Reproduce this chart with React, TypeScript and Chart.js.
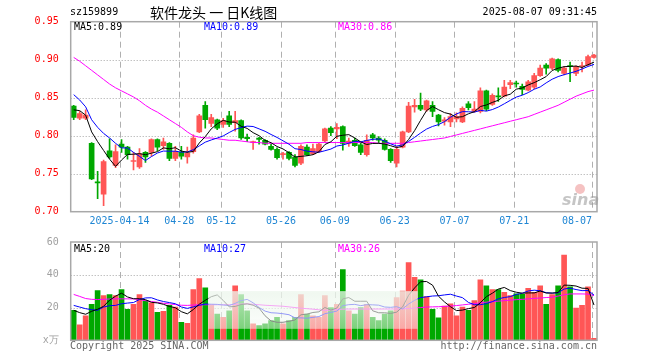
import { useEffect, useRef } from "react";
import { Chart, registerables } from "chart.js";

Chart.register(...registerables);

// ---------- DATA ----------
const dates = [
  "2025-04-01","2025-04-02","2025-04-03","2025-04-07","2025-04-08","2025-04-09","2025-04-10","2025-04-11",
  "2025-04-14","2025-04-15","2025-04-16","2025-04-17","2025-04-18","2025-04-21","2025-04-22","2025-04-23",
  "2025-04-24","2025-04-25","2025-04-28","2025-04-29","2025-04-30",
  "2025-05-06","2025-05-07","2025-05-08","2025-05-09","2025-05-12","2025-05-13","2025-05-14","2025-05-15",
  "2025-05-16","2025-05-19","2025-05-20","2025-05-21","2025-05-22","2025-05-23","2025-05-26","2025-05-27",
  "2025-05-28","2025-05-29","2025-05-30",
  "2025-06-03","2025-06-04","2025-06-05","2025-06-06","2025-06-09","2025-06-10","2025-06-11","2025-06-12",
  "2025-06-13","2025-06-16","2025-06-17","2025-06-18","2025-06-19","2025-06-20","2025-06-23","2025-06-24",
  "2025-06-25","2025-06-26","2025-06-27","2025-06-30",
  "2025-07-01","2025-07-02","2025-07-03","2025-07-04","2025-07-07","2025-07-08","2025-07-09","2025-07-10",
  "2025-07-11","2025-07-14","2025-07-15","2025-07-16","2025-07-17","2025-07-18","2025-07-21","2025-07-22",
  "2025-07-23","2025-07-24","2025-07-25","2025-07-28","2025-07-29","2025-07-30","2025-07-31",
  "2025-08-01","2025-08-04","2025-08-05","2025-08-06","2025-08-07",
];

const opens = [
  0.839,0.823,0.823,0.790,0.739,0.723,0.780,0.761,0.789,0.785,0.766,0.759,0.778,0.778,0.795,0.787,
  0.790,0.770,0.778,0.772,0.779,0.805,0.840,0.816,0.821,0.815,0.826,0.817,0.820,0.798,0.791,0.797,
  0.794,0.786,0.782,0.775,0.778,0.772,0.764,0.785,0.776,0.779,0.793,0.810,0.809,0.812,0.790,0.794,
  0.788,0.775,0.801,0.797,0.794,0.782,0.764,0.785,0.805,0.838,0.840,0.834,0.840,0.827,0.819,0.818,
  0.822,0.818,0.842,0.832,0.832,0.859,0.841,0.852,0.852,0.867,0.869,0.865,0.860,0.864,0.879,0.893,
  0.889,0.900,0.882,0.892,0.882,0.891,0.893,0.903,
];
const closes = [
  0.824,0.829,0.827,0.743,0.738,0.766,0.772,0.779,0.785,0.775,0.767,0.776,0.772,0.795,0.785,0.792,
  0.770,0.779,0.773,0.777,0.797,0.826,0.821,0.824,0.810,0.820,0.815,0.820,0.797,0.796,0.792,0.795,
  0.789,0.782,0.771,0.776,0.770,0.761,0.786,0.775,0.783,0.789,0.809,0.804,0.811,0.790,0.793,0.787,
  0.778,0.794,0.797,0.794,0.782,0.767,0.782,0.805,0.839,0.840,0.835,0.846,0.832,0.818,0.821,0.825,
  0.825,0.836,0.837,0.835,0.859,0.835,0.853,0.851,0.864,0.870,0.868,0.861,0.871,0.879,0.889,0.889,
  0.901,0.886,0.889,0.891,0.891,0.892,0.904,0.906,
];
const highs = [
  0.840,0.832,0.834,0.791,0.753,0.768,0.796,0.788,0.795,0.786,0.778,0.783,0.779,0.796,0.796,0.797,
  0.791,0.786,0.786,0.785,0.801,0.828,0.845,0.828,0.822,0.823,0.832,0.832,0.821,0.802,0.793,0.798,
  0.795,0.789,0.784,0.778,0.779,0.775,0.788,0.788,0.789,0.790,0.810,0.812,0.816,0.813,0.797,0.797,
  0.790,0.801,0.803,0.799,0.796,0.783,0.786,0.806,0.844,0.848,0.856,0.847,0.845,0.828,0.824,0.829,
  0.830,0.838,0.845,0.845,0.863,0.860,0.855,0.863,0.873,0.873,0.872,0.868,0.873,0.882,0.893,0.895,
  0.902,0.901,0.891,0.897,0.892,0.897,0.906,0.907,
];
const lows = [
  0.821,0.821,0.821,0.742,0.717,0.708,0.770,0.758,0.778,0.769,0.755,0.757,0.765,0.773,0.780,0.782,
  0.767,0.767,0.769,0.764,0.777,0.804,0.810,0.812,0.808,0.811,0.812,0.806,0.795,0.792,0.782,0.789,
  0.788,0.781,0.769,0.769,0.768,0.759,0.762,0.774,0.775,0.778,0.792,0.800,0.796,0.781,0.786,0.786,
  0.775,0.773,0.794,0.790,0.781,0.765,0.759,0.784,0.804,0.831,0.833,0.832,0.825,0.813,0.814,0.812,
  0.818,0.817,0.834,0.831,0.830,0.833,0.840,0.845,0.851,0.862,0.864,0.854,0.859,0.862,0.878,0.881,
  0.887,0.884,0.880,0.871,0.879,0.884,0.892,0.902,
];
const volumes = [
  18.3,9.4,14.9,21.9,30.3,27.3,27.9,27.3,30.9,18.9,21.9,27.9,24.3,22.9,17.1,17.7,
  21.3,20.3,11.0,10.4,30.9,37.6,32.1,22.0,16.0,14.0,18.0,33.3,27.9,18.0,10.0,9.0,
  10.0,12.0,14.0,10.0,12.0,14.0,27.9,16.0,15.0,14.0,27.3,20.0,22.0,43.2,18.0,16.0,
  20.0,22.0,14.0,12.0,16.0,18.0,26.0,30.0,47.4,38.4,36.9,26.7,18.9,13.7,20.9,22.3,
  14.9,20.3,18.3,24.3,36.9,33.3,30.9,30.9,29.3,27.3,28.3,28.0,31.7,29.3,33.3,21.9,
  27.9,33.3,52.0,32.7,19.7,21.3,32.7,1.2,
];

const ma5Head = [0.834, 0.833, 0.827, 0.805];
const ma10Head = [0.854, 0.847, 0.838, 0.821, 0.811, 0.803, 0.797, 0.790, 0.784];
const ma30 = [
  0.903,0.898,0.892,0.886,0.880,0.874,0.868,0.863,0.859,0.855,0.851,0.846,0.840,0.835,0.831,0.826,
  0.821,0.816,0.811,0.805,0.800,0.798,0.797,0.797,0.796,0.795,0.794,0.794,0.793,0.792,0.791,0.791,
  0.790,0.790,0.790,0.790,0.790,0.790,0.790,0.791,0.791,0.791,0.791,0.791,0.791,0.791,0.791,0.791,
  0.791,0.791,0.791,0.790,0.790,0.790,0.790,0.790,0.791,0.792,0.793,0.794,0.795,0.796,0.797,0.799,
  0.801,0.803,0.805,0.807,0.809,0.811,0.813,0.815,0.817,0.819,0.821,0.823,0.825,0.828,0.831,0.834,
  0.837,0.840,0.844,0.848,0.852,0.855,0.858,0.860,
];
const volMa5Head = [18.3, 16.9, 15.9, 17.7];
const volMa10Head = [21.3, 20.3, 19.3, 18.7, 18.3, 20.3, 21.1, 21.3, 22.3];
const volMa30 = [
  28.0,26.8,25.5,25.0,24.9,25.0,25.2,25.3,25.3,25.3,25.3,24.8,24.2,23.7,23.2,22.6,
  22.2,21.8,21.4,21.3,21.5,21.7,21.7,21.7,21.7,21.7,21.7,21.9,22.1,22.3,22.0,21.7,
  21.4,21.2,21.0,20.8,20.4,20.0,19.6,19.3,19.0,18.6,18.3,18.4,18.8,19.0,19.1,19.1,
  19.1,19.1,19.1,19.1,19.1,19.1,19.1,19.2,19.4,19.7,20.0,20.3,20.4,20.5,20.7,20.9,
  21.2,21.6,22.0,22.4,22.9,23.3,23.6,23.9,24.2,24.5,24.8,25.0,25.3,25.6,25.8,26.1,
  26.3,27.0,27.8,28.3,28.3,28.3,28.2,27.3,
];

const tickDates = ["2025-04-14","2025-04-28","2025-05-12","2025-05-26","2025-06-09","2025-06-23","2025-07-07","2025-07-21","2025-08-07"];
const tickLabels = ["2025-04-14","04-28","05-12","05-26","06-09","06-23","07-07","07-21","08-07"];
const priceTicks = [0.70, 0.75, 0.80, 0.85, 0.90, 0.95];
const priceGrid = [0.75, 0.80, 0.85, 0.90];
const volTicks = [0, 20, 40, 60];
const volGrid = [20, 40];

const priceLegend = ["MA5:0.89", "MA10:0.89", "MA30:0.86"];
const volLegend = ["MA5:20", "MA10:27", "MA30:26"];

// ---------- STYLE ----------
const RED = "#ff5656";
const GREEN = "#00a800";
const MONO = '"DejaVu Sans Mono", "Liberation Mono", monospace';
const LEGEND_X = [74, 204, 338];
const LEGEND_COLORS = ["#000000", "#0000ff", "#ff00ff"];

function movingAverage(values: number[], n: number, head: number[]) {
  return values.map((_, i) =>
    i < n - 1 ? head[i] : values.slice(i - n + 1, i + 1).reduce((a, b) => a + b, 0) / n
  );
}

const candleColors = opens.map((o, i) => (closes[i] >= o ? RED : GREEN));
const tickIdx = tickDates.map((d) => dates.indexOf(d));

function drawGrid(chart: any, hValues: number[]) {
  const { ctx, chartArea } = chart;
  const xs = chart.scales.x;
  const ys = chart.scales.y;
  ctx.save();
  ctx.lineWidth = 1;
  ctx.strokeStyle = "#a6a6a6";
  ctx.setLineDash([1, 2]);
  hValues.forEach((v) => {
    const y = Math.round(ys.getPixelForValue(v)) + 0.5;
    ctx.beginPath();
    ctx.moveTo(chartArea.left, y);
    ctx.lineTo(chartArea.right, y);
    ctx.stroke();
  });
  ctx.setLineDash([6, 4]);
  ctx.strokeStyle = "#b0b0b0";
  tickIdx.forEach((i) => {
    const x = Math.round(xs.getPixelForValue(i) - 2) + 0.5;
    ctx.beginPath();
    ctx.moveTo(x, chartArea.top);
    ctx.lineTo(x, chartArea.bottom);
    ctx.stroke();
  });
  ctx.restore();
}

function drawFrame(chart: any) {
  const { ctx, chartArea } = chart;
  ctx.save();
  ctx.strokeStyle = "#a8a8a8";
  ctx.lineWidth = 1.5;
  ctx.strokeRect(chartArea.left, chartArea.top, chartArea.right - chartArea.left, chartArea.bottom - chartArea.top);
  ctx.restore();
}

function drawLegend(chart: any, texts: string[], dy: number) {
  const { ctx, chartArea } = chart;
  ctx.save();
  ctx.font = `10px ${MONO}`;
  ctx.textBaseline = "middle";
  ctx.textAlign = "left";
  texts.forEach((t, k) => {
    ctx.fillStyle = LEGEND_COLORS[k];
    ctx.fillText(t, LEGEND_X[k], chartArea.top + dy);
  });
  ctx.restore();
}

export default function App() {
  const topRef = useRef<HTMLCanvasElement>(null);
  const volRef = useRef<HTMLCanvasElement>(null);

  useEffect(() => {
    const ma5 = movingAverage(closes, 5, ma5Head);
    const ma10 = movingAverage(closes, 10, ma10Head);
    const vma5 = movingAverage(volumes, 5, volMa5Head);
    const vma10 = movingAverage(volumes, 10, volMa10Head);

    const topPlugin = {
      id: "kdecor",
      beforeDatasetsDraw(chart: any) {
        drawGrid(chart, priceGrid);
      },
      afterDatasetsDraw(chart: any) {
        drawFrame(chart);
      },
      afterDraw(chart: any) {
        const { ctx, chartArea } = chart;
        const xs = chart.scales.x;
        ctx.save();
        ctx.font = `10px ${MONO}`;
        ctx.fillStyle = "#1f86d4";
        ctx.textBaseline = "middle";
        tickIdx.forEach((i, k) => {
          const x = xs.getPixelForValue(i) - 2;
          ctx.textAlign = k === tickIdx.length - 1 ? "right" : "center";
          ctx.fillText(tickLabels[k], x, chartArea.bottom + 10);
        });
        // sina watermark
        ctx.fillStyle = "rgba(232,120,120,0.45)";
        ctx.beginPath();
        ctx.arc(580, 189, 5, 0, Math.PI * 2);
        ctx.fill();
        ctx.font = 'italic bold 16px "DejaVu Sans", sans-serif';
        ctx.fillStyle = "rgba(150,150,150,0.55)";
        ctx.textAlign = "left";
        ctx.textBaseline = "alphabetic";
        ctx.fillText("sina", 562, 205);
        ctx.restore();
        drawLegend(chart, priceLegend, 6);
      },
    };

    const c1 = new Chart(topRef.current as HTMLCanvasElement, {
      type: "bar",
      data: {
        labels: dates,
        datasets: [
          { type: "line", data: ma5, borderColor: "#000000", borderWidth: 1, pointRadius: 0, order: 0 } as any,
          { type: "line", data: ma10, borderColor: "#0000ff", borderWidth: 1, pointRadius: 0, order: 0 } as any,
          { type: "line", data: ma30, borderColor: "#ff00ff", borderWidth: 1, pointRadius: 0, order: 0 } as any,
          {
            type: "bar",
            data: opens.map((o, i) => [o, closes[i]]),
            backgroundColor: candleColors,
            barThickness: 5,
            minBarLength: 1,
            grouped: false,
            borderWidth: 0,
            order: 1,
          } as any,
          {
            type: "bar",
            data: lows.map((l, i) => [l, highs[i]]),
            backgroundColor: candleColors,
            barThickness: 1,
            grouped: false,
            borderWidth: 0,
            order: 2,
          } as any,
        ],
      },
      options: {
        responsive: false,
        animation: false,
        devicePixelRatio: 1,
        events: [],
        layout: { padding: { top: 21.7, right: 63, bottom: 20.3, left: 0 } },
        plugins: { legend: { display: false }, tooltip: { enabled: false } },
        scales: {
          x: { display: false, offset: true },
          y: {
            min: 0.7,
            max: 0.95,
            afterBuildTicks: (s: any) => {
              s.ticks = priceTicks.map((v) => ({ value: v }));
            },
            afterFit: (s: any) => {
              s.width = 70.7;
            },
            grid: { display: false },
            border: { display: false },
            ticks: {
              color: "#ff0000",
              font: { family: MONO, size: 10 },
              padding: 4,
              autoSkip: false,
              callback: (v: any) => Number(v).toFixed(2),
            },
          },
        },
      },
      plugins: [topPlugin],
    } as any);

    const volPlugin = {
      id: "vdecor",
      beforeDatasetsDraw(chart: any) {
        drawGrid(chart, volGrid);
      },
      afterDatasetsDraw(chart: any) {
        const { ctx } = chart;
        const xs = chart.scales.x;
        const ys = chart.scales.y;
        const x0 = xs.getPixelForValue(22) + 3;
        const x1 = xs.getPixelForValue(57) + 3;
        const y0 = ys.getPixelForValue(30);
        const y1 = ys.getPixelForValue(7);
        ctx.save();
        const g = ctx.createLinearGradient(0, y0, 0, y1);
        g.addColorStop(0, "rgba(236,246,236,0.78)");
        g.addColorStop(1, "rgba(245,250,245,0.5)");
        ctx.fillStyle = g;
        ctx.fillRect(x0, y0, x1 - x0, y1 - y0);
        ctx.restore();
        drawFrame(chart);
      },
      afterDraw(chart: any) {
        drawLegend(chart, volLegend, 7);
      },
    };

    const c2 = new Chart(volRef.current as HTMLCanvasElement, {
      type: "bar",
      data: {
        labels: dates,
        datasets: [
          { type: "line", data: vma5, borderColor: "#000000", borderWidth: 1, pointRadius: 0, order: 0 } as any,
          { type: "line", data: vma10, borderColor: "#0000ff", borderWidth: 1, pointRadius: 0, order: 0 } as any,
          { type: "line", data: volMa30, borderColor: "#ff00ff", borderWidth: 1, pointRadius: 0, order: 0 } as any,
          {
            type: "bar",
            data: volumes,
            backgroundColor: candleColors,
            barThickness: 5,
            grouped: false,
            borderWidth: 0,
            order: 1,
          } as any,
        ],
      },
      options: {
        responsive: false,
        animation: false,
        devicePixelRatio: 1,
        events: [],
        layout: { padding: { top: 8, right: 63, bottom: 19.7, left: 0 } },
        plugins: { legend: { display: false }, tooltip: { enabled: false } },
        scales: {
          x: { display: false, offset: true },
          y: {
            min: 0,
            max: 60,
            afterBuildTicks: (s: any) => {
              s.ticks = volTicks.map((v) => ({ value: v }));
            },
            afterFit: (s: any) => {
              s.width = 70.7;
            },
            grid: { display: false },
            border: { display: false },
            ticks: {
              color: "#a0a0a0",
              font: { family: MONO, size: 10 },
              padding: 4,
              autoSkip: false,
              callback: (v: any) => (Number(v) === 0 ? "x万" : String(v)),
            },
          },
        },
      },
      plugins: [volPlugin],
    } as any);

    return () => {
      c1.destroy();
      c2.destroy();
    };
  }, []);

  const text: any = { position: "absolute", whiteSpace: "nowrap", fontFamily: MONO, fontSize: 10, lineHeight: "12px" };

  return (
    <div style={{ position: "absolute", left: 0, top: 0, width: 660, height: 360, background: "#ffffff", overflow: "hidden" }}>
      <canvas ref={topRef} width={660} height={232} style={{ position: "absolute", left: 0, top: 0, width: 660, height: 232 }} />
      <canvas ref={volRef} width={660} height={128} style={{ position: "absolute", left: 0, top: 232, width: 660, height: 128 }} />
      <div style={{ ...text, left: 70, top: 6, color: "#000" }}>sz159899</div>
      <div
        style={{
          position: "absolute",
          left: 150,
          top: 3,
          whiteSpace: "nowrap",
          fontFamily: '"Noto Sans CJK SC", sans-serif',
          fontSize: 14,
          lineHeight: "18px",
          color: "#000",
        }}
      >
        软件龙头 一 日K线图
      </div>
      <div style={{ ...text, right: 63, top: 6, color: "#000" }}>2025-08-07 09:31:45</div>
      <div style={{ ...text, left: 70, top: 340, color: "#666" }}>Copyright 2025 SINA.COM</div>
      <div style={{ ...text, right: 63, top: 340, color: "#666" }}>http://finance.sina.com.cn</div>
    </div>
  );
}
